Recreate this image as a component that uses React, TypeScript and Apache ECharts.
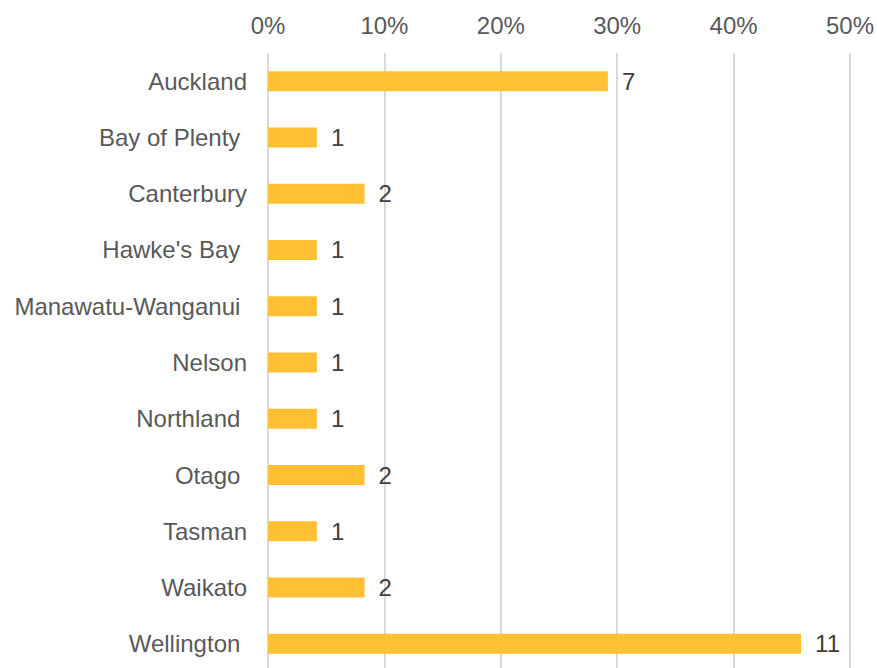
import React, { useEffect, useRef } from "react";
import * as echarts from "echarts";

const regions = [
  "Auckland",
  "Bay of Plenty ",
  "Canterbury",
  "Hawke's Bay ",
  "Manawatu-Wanganui ",
  "Nelson",
  "Northland ",
  "Otago ",
  "Tasman",
  "Waikato",
  "Wellington ",
];
const sharePercent = [29.2, 4.2, 8.3, 4.2, 4.2, 4.2, 4.2, 8.3, 4.2, 8.3, 45.8];
const counts = [7, 1, 2, 1, 1, 1, 1, 2, 1, 2, 11];
const axisMax = 50;
const axisStep = 10;

const FONT = '"Liberation Sans", Arial, sans-serif';

export default function App() {
  const ref = useRef<HTMLDivElement>(null);
  useEffect(() => {
    if (!ref.current) return;
    const chart = echarts.init(ref.current, null, { renderer: "svg" });
    chart.setOption({
      animation: false,
      backgroundColor: "#ffffff",
      textStyle: { fontFamily: FONT },
      grid: { left: 268, right: 27, top: 53, bottom: 0, containLabel: false },
      xAxis: {
        type: "value",
        position: "top",
        min: 0,
        max: axisMax,
        interval: axisStep,
        axisLine: { show: false },
        axisTick: { show: false },
        splitLine: { show: true, lineStyle: { color: "#d9d9d9", width: 2 } },
        axisLabel: {
          formatter: (v: number) => `${v}%`,
          color: "#595959",
          fontSize: 24,
          fontFamily: FONT,
          margin: 16,
        },
      },
      yAxis: {
        type: "category",
        data: regions,
        inverse: true,
        axisLine: { show: false },
        axisTick: { show: false },
        splitLine: { show: false },
        axisLabel: {
          color: "#595959",
          fontSize: 24,
          fontFamily: FONT,
          margin: 21,
        },
      },
      series: [
        {
          type: "bar",
          data: sharePercent,
          barWidth: 20,
          itemStyle: { color: "#ffc133" },
          label: {
            show: true,
            position: "right",
            distance: 14,
            color: "#404040",
            fontSize: 24,
            fontFamily: FONT,
            formatter: (p: any) => String(counts[p.dataIndex]),
          },
        },
      ],
    });
    return () => chart.dispose();
  }, []);
  return (
    <div
      style={{
        position: "fixed",
        left: 0,
        top: 0,
        width: 877,
        height: 668,
        overflow: "hidden",
        background: "#fff",
      }}
    >
      <div ref={ref} style={{ width: 877, height: 672 }} />
    </div>
  );
}
